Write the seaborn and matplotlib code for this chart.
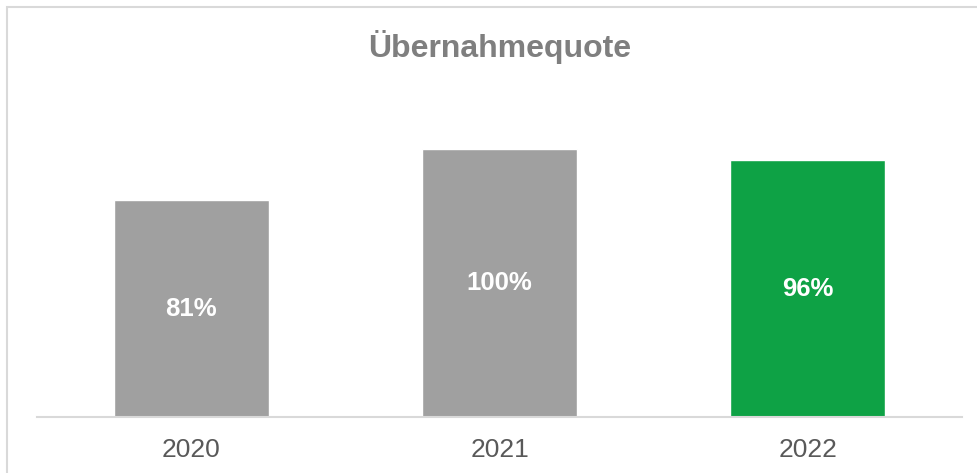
import matplotlib
matplotlib.use("Agg")
import matplotlib.pyplot as plt
import seaborn as sns
import pandas as pd
from matplotlib.patches import Rectangle

years = ["2020", "2021", "2022"]
values = [81, 100, 96]
labels = ["81%", "100%", "96%"]
colors = ["#a0a0a0", "#a0a0a0", "#0ea245"]

sns.set_theme(style="white")
plt.rcParams["font.family"] = ["Liberation Sans", "DejaVu Sans"]

W, H = 978, 473
fig = plt.figure(figsize=(W / 100, H / 100), dpi=100)
ax = fig.add_axes([37 / W, (H - 417) / H, (962 - 37) / W, (417 - 100) / H])

df = pd.DataFrame({"year": years, "value": values})
sns.barplot(data=df, x="year", y="value", hue="year", palette=colors,
            width=0.503, saturation=1, legend=False, ax=ax)

ax.set_ylim(0, 118.5)
ax.set_xlim(-0.5, 2.5)
for s in ["top", "right", "left"]:
    ax.spines[s].set_visible(False)
ax.spines["bottom"].set_color("#d9d9d9")
ax.spines["bottom"].set_linewidth(1.5)
ax.set_yticks([])
ax.set_xlabel("")
ax.set_ylabel("")
ax.tick_params(axis="x", length=0, pad=15, labelsize=19, labelcolor="#595959")

for i, (v, lab) in enumerate(zip(values, labels)):
    ax.text(i, v / 2, lab, ha="center", va="center", color="white",
            fontsize=18.5, fontweight="bold")

fig.text(500 / W, (H - 47) / H, "Übernahmequote", ha="center", va="center",
         fontsize=23, fontweight="bold", color="#7f7f7f")

fig.patches.append(Rectangle((7 / W, -0.1), 1.2, 1 - 7 / H + 0.1,
                             transform=fig.transFigure, fill=False,
                             edgecolor="#d9d9d9", linewidth=1.5, zorder=0))

fig.savefig("out.png", dpi=100)
